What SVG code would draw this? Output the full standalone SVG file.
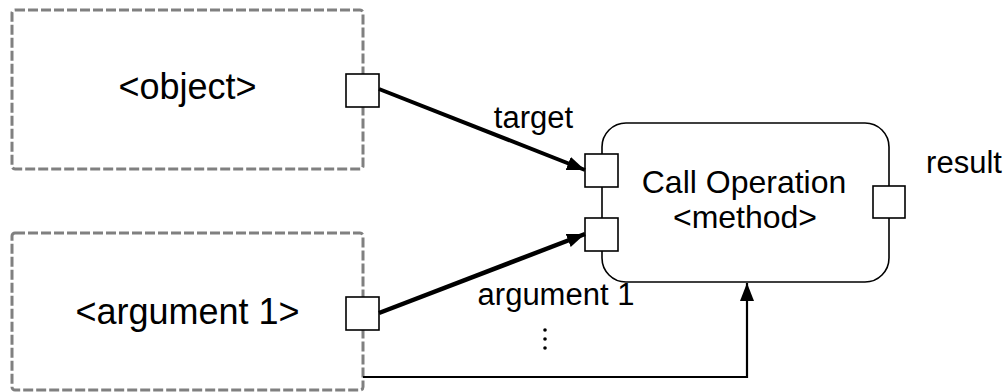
<svg xmlns="http://www.w3.org/2000/svg" width="1005" height="392" viewBox="0 0 1005 392">
<defs>
<style>
.obj{fill:#fff;stroke:#808080;stroke-width:3;stroke-dasharray:10 3}
.port{fill:#fff;stroke:#000;stroke-width:1.6}
.act{fill:#fff;stroke:#000;stroke-width:1.6}
.t{font-family:"Liberation Sans",Arial,Helvetica,sans-serif;fill:#000}
.big{font-size:36px}
.mid{font-size:32px}
.lbl{font-size:31px}
.edge{fill:none;stroke:#000}
</style>
<marker id="ah" markerUnits="userSpaceOnUse" markerWidth="20" markerHeight="16" refX="18" refY="7" orient="auto">
<path d="M0,0 L18,7 L0,14 Z" fill="#000"/>
</marker>
</defs>
<g id="object">
<rect class="obj" x="12" y="10" width="351" height="159" rx="3"/>
<text class="t big" x="187.5" y="99" text-anchor="middle">&lt;object&gt;</text>
<rect class="port" x="346" y="74" width="33" height="33"/>
</g>
<g id="argument1">
<rect class="obj" x="12" y="233" width="351" height="157" rx="3"/>
<text class="t big" x="187.5" y="324" text-anchor="middle">&lt;argument 1&gt;</text>
<rect class="port" x="346" y="297" width="33" height="33"/>
</g>
<g id="callOperation">
<rect class="act" x="602" y="123" width="287" height="159" rx="24"/>
<text class="t mid" x="744" y="193" text-anchor="middle">Call Operation</text>
<text class="t mid" x="745" y="228" text-anchor="middle">&lt;method&gt;</text>
<rect class="port" x="585" y="154" width="33" height="33"/>
<rect class="port" x="585" y="218" width="33" height="33"/>
<rect class="port" x="873" y="186" width="32" height="32"/>
<text class="t lbl" x="964" y="173" text-anchor="middle">result</text>
</g>
<g id="connectors">
<line class="edge" x1="379" y1="89" x2="585" y2="170" stroke-width="4" marker-end="url(#ah)"/>
<line class="edge" x1="379" y1="313" x2="585" y2="234" stroke-width="4.5" marker-end="url(#ah)"/>
<polyline class="edge" points="363,377 747,377 747,283" stroke-width="2.2" marker-end="url(#ah)"/>
<text class="t lbl" x="533.5" y="128" text-anchor="middle">target</text>
<text class="t lbl" x="556" y="305" text-anchor="middle">argument 1</text>
<circle cx="545" cy="330" r="1.8" fill="#000"/>
<circle cx="545" cy="339" r="1.8" fill="#000"/>
<circle cx="545" cy="348" r="1.8" fill="#000"/>
</g>
</svg>
